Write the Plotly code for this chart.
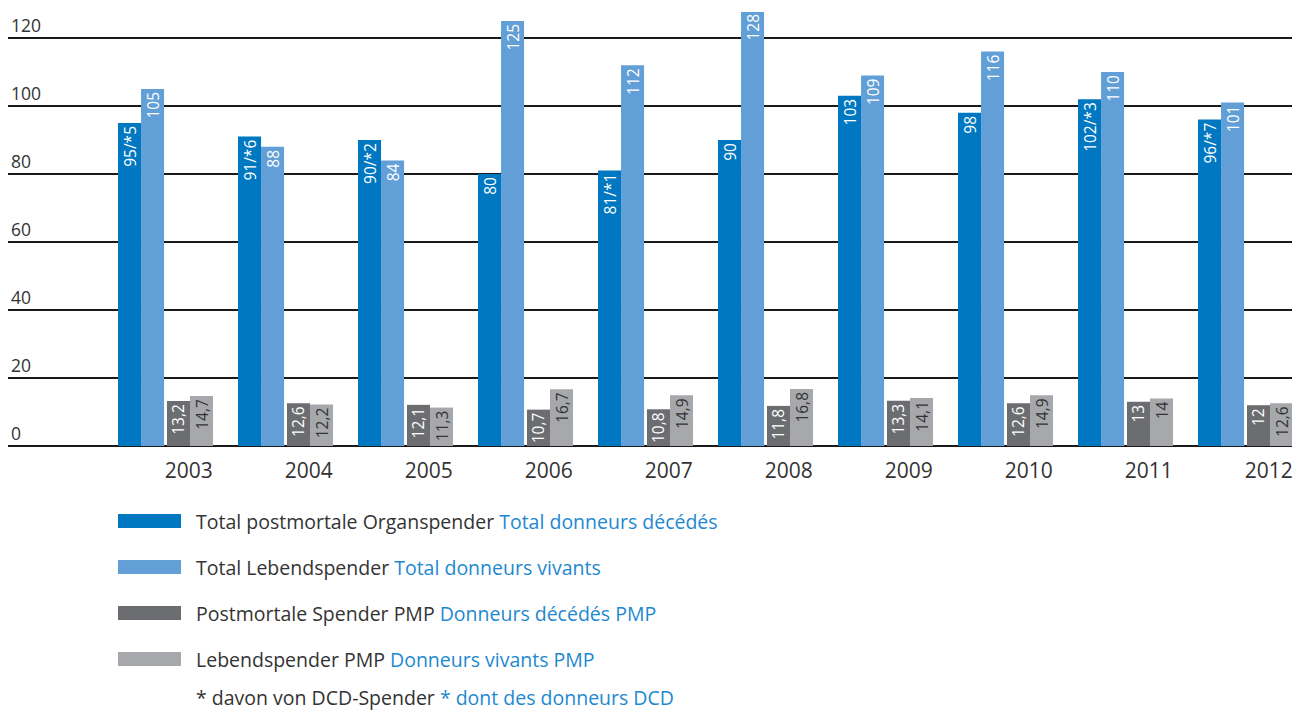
import plotly.graph_objects as go

years = ["2003", "2004", "2005", "2006", "2007", "2008", "2009", "2010", "2011", "2012"]
postmortal_total = [95, 91, 90, 80, 81, 90, 103, 98, 102, 96]
dcd_count = [5, 6, 2, None, 1, None, None, None, 3, 7]
living_total = [105, 88, 84, 125, 112, 128, 109, 116, 110, 101]
postmortal_pmp = [13.2, 12.6, 12.1, 10.7, 10.8, 11.8, 13.3, 12.6, 13, 12]
living_pmp = [14.7, 12.2, 11.3, 16.7, 14.9, 16.8, 14.1, 14.9, 14, 12.6]
y_ticks = [0, 20, 40, 60, 80, 100, 120]

legend_de = ["Total postmortale Organspender", "Total Lebendspender",
             "Postmortale Spender PMP", "Lebendspender PMP"]
legend_fr = ["Total donneurs décédés", "Total donneurs vivants",
             "Donneurs décédés PMP", "Donneurs vivants PMP"]
footnote_de = "* davon von DCD-Spender"
footnote_fr = "* dont des donneurs DCD"

C_DBLUE = "#0077C1"
C_LBLUE = "#629FD6"
C_DGRAY = "#6C6D70"
C_LGRAY = "#A6A8AB"
C_FR = "#1E88D0"
C_TXT = "#333333"
FONT = "Open Sans"

# page body has an 8px margin; compensate
OFF = 8
VW, VH = 1302, 713
W, H = VW - OFF, VH - OFF


def fx(px):
    return (px - OFF) / W


def fy(py):
    return 1 - (py - OFF) / H


x = list(range(len(years)))


def fmt(v):
    return f"{v:g}".replace(".", ",")


lbl_post = [f"{v}/*{d}" if d is not None else f"{v}" for v, d in zip(postmortal_total, dcd_count)]
lbl_live = [fmt(v) for v in living_total]
lbl_ppmp = [fmt(v) for v in postmortal_pmp]
lbl_lpmp = [fmt(v) for v in living_pmp]

BW = 0.192
series = [
    (postmortal_total, lbl_post, C_DBLUE, -0.400, "white"),
    (living_total, lbl_live, C_LBLUE, -0.208, "white"),
    (postmortal_pmp, lbl_ppmp, C_DGRAY, 0.008, "white"),
    (living_pmp, lbl_lpmp, C_LGRAY, 0.200, C_TXT),
]

fig = go.Figure()
for vals, labels, col, off, tcol in series:
    fig.add_trace(go.Bar(
        x=x, y=vals, text=labels, width=BW, offset=off,
        marker=dict(color=col, line=dict(width=0)),
        textposition="inside", insidetextanchor="end", textangle=-90,
        textfont=dict(family=FONT, size=15.5, color=tcol),
        constraintext="none", showlegend=False, hoverinfo="skip",
    ))

# plot area in (viewport) pixels
px_l, px_r = 8, 1292
py_top, py_bot = 4 + 8, 446
zero_px, per_unit = 446, 3.4
center0 = 166.0
gstep = 120.0
x0 = (px_l - center0) / gstep
x1 = (px_r - center0) / gstep
ytop = (zero_px - py_top) / per_unit

fig.update_layout(
    width=W, height=H,
    margin=dict(l=0, r=0, t=0, b=0),
    paper_bgcolor="white", plot_bgcolor="white",
    barmode="overlay",
    font=dict(family=FONT, color=C_TXT),
    xaxis=dict(
        domain=[fx(px_l), fx(px_r)],
        range=[x0, x1],
        tickvals=[i + 0.19 for i in x], ticktext=years,
        tickfont=dict(size=21, color=C_TXT),
        ticks="outside", ticklen=6, tickcolor="rgba(0,0,0,0)",
        showgrid=False, zeroline=False, showline=False,
    ),
    yaxis=dict(
        domain=[fy(py_bot), fy(py_top)],
        range=[0, ytop],
        tickvals=y_ticks,
        ticklabelposition="inside top",
        tickfont=dict(size=17.5, color=C_TXT),
        showgrid=True, gridcolor="#1a1a1a", gridwidth=1.5,
        zeroline=True, zerolinecolor="#1a1a1a", zerolinewidth=1.5,
        showline=False, ticks="",
    ),
)

# legend (manual)
sw_x0, sw_x1 = 118, 181
rows_y = [521, 567, 613, 659]
swatch_cols = [C_DBLUE, C_LBLUE, C_DGRAY, C_LGRAY]
for yy, col, de, fr in zip(rows_y, swatch_cols, legend_de, legend_fr):
    fig.add_shape(type="rect", xref="paper", yref="paper",
                  x0=fx(sw_x0), x1=fx(sw_x1),
                  y0=fy(yy + 7), y1=fy(yy - 7),
                  fillcolor=col, line=dict(width=0))
    fig.add_annotation(xref="paper", yref="paper", x=fx(194), y=fy(yy),
                       xanchor="left", yanchor="middle", showarrow=False,
                       text=f"{de} <span style='color:{C_FR}'>{fr}</span>",
                       font=dict(family=FONT, size=19.5, color=C_TXT))
fig.add_annotation(xref="paper", yref="paper", x=fx(194), y=fy(697),
                   xanchor="left", yanchor="middle", showarrow=False,
                   text=f"{footnote_de} <span style='color:{C_FR}'>{footnote_fr}</span>",
                   font=dict(family=FONT, size=19.5, color=C_TXT))

fig.write_html("out.html")
